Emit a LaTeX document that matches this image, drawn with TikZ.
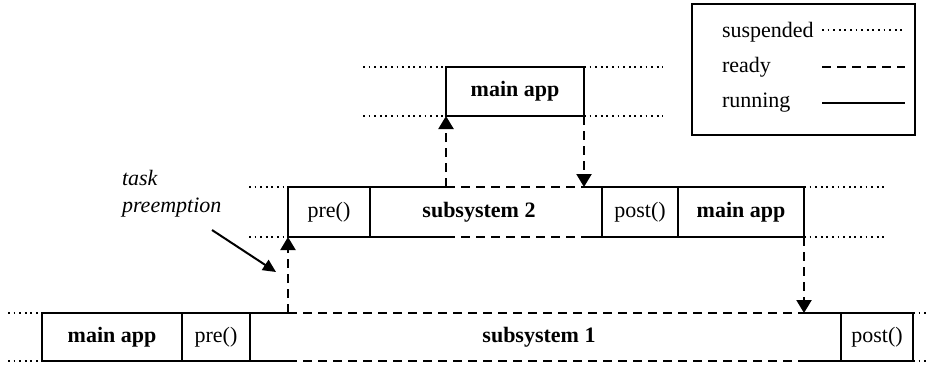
\documentclass[tikz,border=0pt]{standalone}
\usepackage{fontspec}
\setmainfont{Liberation Serif}
\usetikzlibrary{arrows.meta}
\begin{document}
\begin{tikzpicture}[x=0.5pt,y=-0.5pt,
  run/.style={line width=1.1pt},
  rdy/.style={line width=1.1pt, dash pattern=on 4.5pt off 3pt},
  susp/.style={line width=0.9pt, dash pattern=on 0.9pt off 1.9pt},
  box/.style={draw, run, inner sep=0pt, outer sep=0pt, font=\fontsize{11}{13}\selectfont},
  lbl/.style={inner sep=0pt, outer sep=0pt, font=\fontsize{11}{13.5}\selectfont},
  ready arrow/.style={rdy, -{Triangle[length=6.5pt,width=7.5pt]}},
]
\useasboundingbox (0,0) rectangle (929,370);

% ---- bottom row (subsystem 1 level)
\node[box, minimum width=70pt, minimum height=24pt] (ma1) at (112,337) {\bfseries main app};
\node[box, minimum width=34pt, minimum height=24pt] (pre1) at (216,337) {pre()};
\node[box, minimum width=36pt, minimum height=24pt] (post1) at (877,337) {post()};
\node[lbl] (sub1) at (539,337) {\bfseries subsystem 1};

% ---- middle row (subsystem 2 level)
\node[box, minimum width=41pt, minimum height=25pt] (pre2) at (329,212) {pre()};
\node[box, minimum width=38pt, minimum height=25pt] (post2) at (640,212) {post()};
\node[box, minimum width=63pt, minimum height=25pt] (ma2) at (741,212) {\bfseries main app};
\node[lbl] (sub2) at (479,212) {\bfseries subsystem 2};

% ---- top row
\node[box, minimum width=69pt, minimum height=24.5pt] (ma3) at (515,91.5) {\bfseries main app};

% ---- coordinates
\coordinate (pA) at (288,313);  \coordinate (pAb) at (288,361);
\coordinate (rB) at (804,313);  \coordinate (rBb) at (804,361);
\coordinate (pB) at (446,187);  \coordinate (pBb) at (446,237);
\coordinate (rC) at (584,187);  \coordinate (rCb) at (584,237);

% bottom row lines
\draw[susp] (8,313) coordinate (d1) -- (ma1.north west);
\draw[susp] (8,361) coordinate (d2) -- (ma1.south west);
\draw[run] (pre1.north east) -- (pA);
\draw[rdy] (pA) -- (rB);
\draw[run] (rB) -- (post1.north west);
\draw[run] (pre1.south east) -- (pAb);
\draw[rdy] (pAb) -- (rBb);
\draw[run] (rBb) -- (post1.south west);
\draw[susp] (post1.north east) -- (929,313) coordinate (d3);
\draw[susp] (post1.south east) -- (929,361) coordinate (d4);

% middle row lines
\draw[susp] (249,187) coordinate (d5) -- (pre2.north west);
\draw[susp] (249,237) coordinate (d6) -- (pre2.south west);
\draw[run] (pre2.north east) -- (pB);
\draw[rdy] (pB) -- (rC);
\draw[run] (rC) -- (post2.north west);
\draw[run] (pre2.south east) -- (pBb);
\draw[rdy] (pBb) -- (rCb);
\draw[run] (rCb) -- (post2.south west);
\draw[susp] (ma2.north east) -- (885,187) coordinate (d7);
\draw[susp] (ma2.south east) -- (885,237) coordinate (d8);

% top row lines
\draw[susp] (363,67) coordinate (d9) -- (ma3.north west);
\draw[susp] (363,116) coordinate (d10) -- (ma3.south west);
\draw[susp] (ma3.north east) -- (663,67) coordinate (d11);
\draw[susp] (ma3.south east) -- (663,116) coordinate (d12);

% switching arrows
\draw[ready arrow] (pA) -- (pre2.south west);
\draw[ready arrow] (pB) -- (ma3.south west);
\draw[ready arrow] (ma3.south east) -- (rC);
\draw[ready arrow] (ma2.south east) -- (rB);

% task preemption
\node[lbl, align=left, anchor=west, font=\fontsize{11}{13.5}\selectfont\itshape] (tp) at (122,194) {task\\preemption};
\coordinate (pe0) at (212,230);
\coordinate (pe1) at (276,272);
\draw[line width=1pt, -{Triangle[length=6.5pt,width=6pt]}] (pe0) -- (pe1);

% legend
\node[draw, line width=0.9pt, minimum width=111.5pt, minimum height=65.5pt, inner sep=0pt, outer sep=0pt] (leg) at (803.5,69.5) {};
\node[lbl, anchor=base west] (ls) at (722,37) {suspended};
\node[lbl, anchor=base west] (lr) at (722,72) {ready};
\node[lbl, anchor=base west] (lu) at (722,107) {running};
\draw[susp] (822,30) coordinate (l1a) -- (905,30) coordinate (l1b);
\draw[rdy] (822,67) coordinate (l2a) -- (905,67) coordinate (l2b);
\draw[run] (822,103) coordinate (l3a) -- (905,103) coordinate (l3b);
\end{tikzpicture}
\end{document}
